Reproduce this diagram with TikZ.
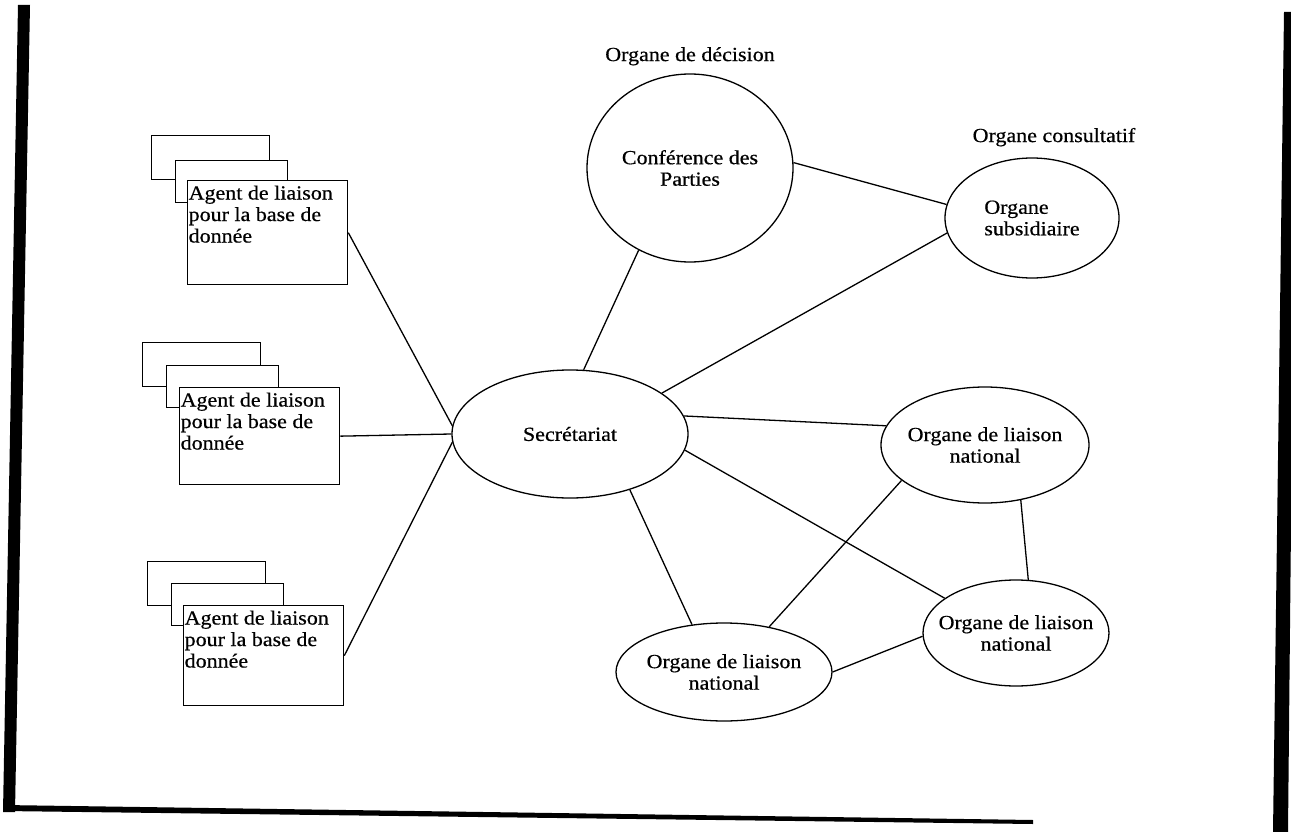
\documentclass[tikz,border=0pt]{standalone}
\usepackage{fontspec}
\setmainfont{Liberation Serif}[FakeStretch=1.1, FakeBold=0.6]
\usetikzlibrary{shapes.geometric}

\tikzset{
  back/.style={draw, fill=white, anchor=north west, inner sep=0pt, minimum width=118pt, minimum height=44pt},
  mid/.style={back, minimum width=112pt, minimum height=42pt},
  front/.style={draw, fill=white, anchor=north west, inner sep=0pt, minimum width=160pt, minimum height=100pt},
  agent/.style={anchor=north west, align=left, inner xsep=1pt, inner ysep=5pt},
  organe/.style={draw, ellipse, inner sep=-12pt, align=center}
}

\begin{document}
\begin{tikzpicture}[x=1pt,y=-1pt,line width=1.3pt,font=\fontsize{20}{21.5}\selectfont]
\useasboundingbox (0,0) rectangle (1291,832);
% bords du scan
\fill (18,5) -- (30,5) -- (15,812) -- (3,812) -- cycle;
\fill (3,805) -- (1033,820) -- (1033,824) -- (3,811) -- cycle;
\fill (1284,12) -- (1296,12) -- (1288,832) -- (1273,832) -- cycle;

% agents de liaison
\node[back] (pile1a) at (151,135) {};
\node[mid] (pile1b) at (175,160) {};
\node[front, minimum height=104pt, label={[agent]north west:Agent de liaison\\pour la base de\\donnée}] (agent1) at (187,180) {};
\node[back] (pile2a) at (142,342) {};
\node[mid] (pile2b) at (166,365) {};
\node[front, minimum height=97pt, label={[agent]north west:Agent de liaison\\pour la base de\\donnée}] (agent2) at (179,387) {};
\node[back] (pile3a) at (147,561) {};
\node[mid] (pile3b) at (171,583) {};
\node[front, label={[agent]north west:Agent de liaison\\pour la base de\\donnée}] (agent3) at (183,605) {};

% organes
\node[organe, minimum width=206pt, minimum height=188pt,
      label={[label distance=4pt]above:Organe de décision}] (conf) at (690,168) {Conférence des\\Parties};
\node[organe, align=left, minimum width=174pt, minimum height=120pt,
      label={[label distance=7pt, xshift=22pt]above:Organe consultatif}] (sub) at (1032,218) {Organe\\subsidiaire};
\node[organe, minimum width=236pt, minimum height=128pt] (sec) at (570,434) {Secrétariat};
\node[organe, minimum width=208pt, minimum height=116pt] (nat1) at (985,445) {Organe de liaison\\national};
\node[organe, minimum width=216pt, minimum height=98pt] (nat2) at (724,672) {Organe de liaison\\national};
\node[organe, minimum width=186pt, minimum height=106pt] (nat3) at (1016,633) {Organe de liaison\\national};

% liens
\draw (agent1.east) -- (sec.176);
\draw (agent2.east) -- (sec.west);
\draw (agent3.east) -- (sec.184);
\draw (sec.78) -- (conf.238);
\draw (conf.3) -- (sub.171);
\draw (sec.24) -- (sub.190);
\draw (sec.9) -- (nat1.169);
\draw (sec.-8) -- (nat3.154);
\draw (sec.-43) -- (nat2.124);
\draw (nat1.203) -- (nat2.45);
\draw (nat1.-57) -- (nat3.77);
\draw (nat2.east) -- (nat3.182);
\end{tikzpicture}
\end{document}
